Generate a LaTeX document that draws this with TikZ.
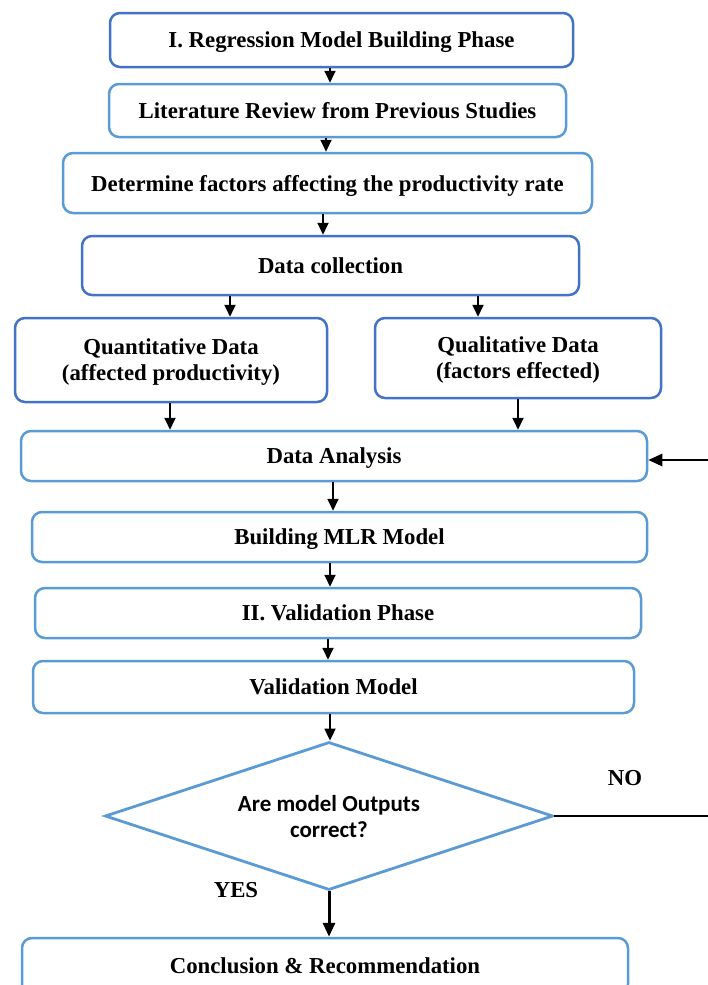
\documentclass[tikz,border=0pt]{standalone}
\usepackage{fontspec}
\setmainfont{Liberation Serif}
\newfontfamily\calib{Carlito}
\usetikzlibrary{arrows.meta,shapes.geometric}
\definecolor{dblue}{HTML}{4472C4}
\definecolor{lblue}{HTML}{5B9BD5}
\begin{document}
\begin{tikzpicture}[x=1pt,y=-1pt,
  box/.style={draw, line width=2.5pt, rounded corners=10pt, align=center, inner sep=0pt,
    text depth=0pt, font=\fontsize{22.8}{26}\selectfont\bfseries, fill=white},
  dbox/.style={box, draw=dblue},
  lbox/.style={box, draw=lblue},
  arr/.style={-{Triangle[length=12pt,width=11pt]}, line width=1.8pt},
  lab/.style={font=\fontsize{22.8}{27}\selectfont\bfseries, inner sep=0pt}]
\fill[white] (0,0) rectangle (708,985);
\useasboundingbox (0,0) rectangle (708,985);

\node[dbox, minimum width=463pt, minimum height=54pt] (b1) at (341.5,40) {I. Regression Model Building Phase};
\node[lbox, minimum width=457pt, minimum height=53pt] (b2) at (337.5,110.5) {Literature Review from Previous Studies};
\node[lbox, minimum width=529pt, minimum height=60pt] (b3) at (327.5,183) {Determine factors affecting the productivity rate};
\node[dbox, minimum width=497pt, minimum height=59pt] (b4) at (330.5,265.5) {Data collection};
\node[dbox, minimum width=312pt, minimum height=84pt] (b5) at (171,360) {Quantitative Data\\(affected productivity)};
\node[dbox, minimum width=286pt, minimum height=80pt] (b6) at (518,358) {Qualitative Data\\(factors effected)};
\node[lbox, minimum width=626pt, minimum height=50pt] (da) at (334,456) {Data Analysis};
\node[lbox, minimum width=615pt, minimum height=50pt] (b7) at (339.5,537) {Building MLR Model};
\node[lbox, minimum width=606pt, minimum height=50pt] (b8) at (338,613) {II. Validation Phase};
\node[lbox, minimum width=601pt, minimum height=52pt] (b9) at (333.5,687) {Validation Model};
\node[draw=lblue, line width=2.8pt, diamond, aspect=3, inner sep=0pt, fill=white,
  minimum width=448pt, minimum height=148pt, align=center, text depth=0pt,
  font=\calib\bfseries\fontsize{23}{26}\selectfont] (dia) at (329,816) {Are model Outputs\\correct?};
\node[lbox, minimum width=606pt, minimum height=56pt] (b10) at (325,966) {Conclusion \& Recommendation};

\node[lab] (no) at (625,778) {NO};
\node[lab] (yes) at (236,890) {YES};

\coordinate (a1) at (330,0);
\coordinate (a2) at (326,0);
\coordinate (a3) at (323,0);
\coordinate (a4) at (230,0);
\coordinate (a5) at (478,0);
\coordinate (a6) at (170,0);
\coordinate (a7) at (518,0);
\coordinate (a8) at (333,0);
\coordinate (a9) at (330,0);
\coordinate (a10) at (328,0);
\coordinate (a11) at (330,0);

\draw[arr] (b1.south -| a1) -- (b2.north -| a1);
\draw[arr] (b2.south -| a2) -- (b3.north -| a2);
\draw[arr] (b3.south -| a3) -- (b4.north -| a3);
\draw[arr] (b4.south -| a4) -- (b5.north -| a4);
\draw[arr] (b4.south -| a5) -- (b6.north -| a5);
\draw[arr] (b5.south -| a6) -- (da.north -| a6);
\draw[arr] (b6.south -| a7) -- (da.north -| a7);
\draw[arr] (da.south -| a8) -- (b7.north -| a8);
\draw[arr] (b7.south -| a9) -- (b8.north -| a9);
\draw[arr] (b8.south -| a10) -- (b9.north -| a10);
\draw[arr] (b9.south -| a11) -- (dia.north -| a11);
\draw[line width=3pt, -{Triangle[length=14pt,width=12pt]}] (dia.south) -- (b10.north -| dia.south);

\coordinate (r1) at (714,812);
\coordinate (r2) at (714,460);
\draw[line width=2.5pt, -{Triangle[length=14pt,width=12pt]}] (dia.east) -- (dia.east -| r1) -- (r2) -- (da.east |- r2);
\end{tikzpicture}
\end{document}
